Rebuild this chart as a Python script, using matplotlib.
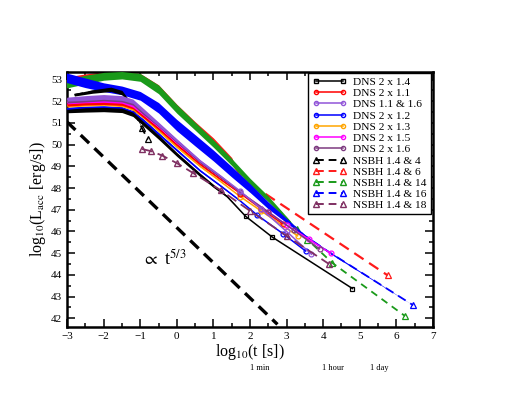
import matplotlib
matplotlib.use("Agg")
import matplotlib.pyplot as plt
from matplotlib.lines import Line2D
from matplotlib.ticker import MultipleLocator
import numpy as np

plt.rcParams['font.family'] = ['Liberation Serif', 'DejaVu Serif']
plt.rcParams['mathtext.fontset'] = 'stix'

# ---- data (log10 t [s], log10 L [erg/s]) ----
# DNS runs: x, y and half-width of the noisy early band
dns14_x = [-3.0, -2.5, -2.0, -1.5, -1.2, -0.9, -0.5, 0.0, 0.64, 1.0, 1.37, 1.88, 2.61, 4.8]
dns14_y = [51.55, 51.6, 51.62, 51.58, 51.4, 50.95, 50.35, 49.55, 48.6, 48.1, 47.62, 46.7, 45.74, 43.37]
dns14_w = [0.08, 0.1, 0.1, 0.1, 0.1, 0.1, 0.1, 0.09, 0.08, 0.07, 0.04, 0, 0, 0]

dns11_x = [-3.0, -2.5, -2.0, -1.5, -1.2, -0.9, -0.5, 0.0, 0.64, 1.2, 1.74, 2.3, 2.9]
dns11_y = [51.85, 51.9, 51.92, 51.88, 51.72, 51.3, 50.75, 50.0, 49.1, 48.4, 47.75, 47.05, 46.35]
dns11_w = [0.07, 0.07, 0.07, 0.07, 0.07, 0.07, 0.06, 0.05, 0.04, 0.03, 0, 0, 0]

dns1116_x = [-3.0, -2.5, -2.0, -1.5, -1.2, -0.9, -0.5, 0.0, 0.64, 1.2, 1.74, 2.3, 3.0, 3.68]
dns1116_y = [52.1, 52.15, 52.2, 52.15, 52.0, 51.55, 50.95, 50.2, 49.25, 48.55, 47.85, 47.05, 46.0, 44.95]
dns1116_w = [0.09, 0.11, 0.11, 0.11, 0.1, 0.1, 0.09, 0.07, 0.05, 0.04, 0, 0, 0, 0]

dns12_x = [-3.0, -2.5, -2.0, -1.5, -1.2, -0.9, -0.5, 0.0, 0.64, 1.2, 1.74, 2.2, 2.9, 3.52]
dns12_y = [51.65, 51.7, 51.72, 51.68, 51.5, 51.1, 50.5, 49.75, 48.8, 48.1, 47.4, 46.75, 45.9, 45.1]
dns12_w = [0.07, 0.07, 0.07, 0.07, 0.07, 0.07, 0.06, 0.05, 0.04, 0.03, 0.02, 0, 0, 0]

dns13_x = [-3.0, -2.5, -2.0, -1.5, -1.2, -0.9, -0.5, 0.0, 0.64, 1.2, 1.74, 2.3, 3.3]
dns13_y = [51.8, 51.85, 51.88, 51.82, 51.65, 51.25, 50.65, 49.9, 49.0, 48.3, 47.6, 46.95, 45.8]
dns13_w = [0.07, 0.07, 0.07, 0.07, 0.07, 0.06, 0.05, 0.04, 0.03, 0.02, 0, 0, 0]

dns15_x = [-3.0, -2.5, -2.0, -1.5, -1.2, -0.9, -0.5, 0.0, 0.64, 1.2, 1.74, 2.5, 3.0, 3.6, 4.2]
dns15_y = [51.95, 52.0, 52.02, 51.98, 51.8, 51.4, 50.85, 50.1, 49.2, 48.5, 47.8, 46.9, 46.3, 45.65, 45.0]
dns15_w = [0.07, 0.07, 0.07, 0.07, 0.07, 0.07, 0.06, 0.05, 0.04, 0.03, 0.02, 0, 0, 0, 0]

dns16_x = [-3.0, -2.5, -2.0, -1.5, -1.2, -0.9, -0.5, 0.0, 0.64, 1.2, 1.74, 2.5, 3.2, 3.9]
dns16_y = [52.0, 52.05, 52.1, 52.05, 51.9, 51.45, 50.9, 50.15, 49.2, 48.5, 47.8, 46.9, 46.05, 45.2]
dns16_w = [0.08, 0.08, 0.08, 0.08, 0.08, 0.08, 0.07, 0.06, 0.05, 0.03, 0, 0, 0, 0]

# NSBH runs
ns4_x = [-2.8, -2.3, -1.8, -1.5, -1.3, -1.1, -0.95, -0.79]
ns4_y = [52.3, 52.45, 52.55, 52.4, 51.95, 51.3, 50.75, 50.24]
ns4_w = [0.06, 0.08, 0.1, 0.1, 0.1, 0.07, 0, 0]

ns6_x = [-3.05, -2.5, -2.0, -1.5, -1.0, -0.5, 0.0, 0.5, 1.0, 1.5, 1.74, 5.76]
ns6_y = [52.95, 53.1, 53.2, 53.22, 53.12, 52.6, 51.7, 50.9, 50.15, 49.25, 48.5, 43.98]
ns6_w = [0.16, 0.16, 0.16, 0.16, 0.16, 0.16, 0.16, 0.16, 0.16, 0.16, 0, 0]

ns14_x = [-3.05, -2.5, -2.0, -1.5, -1.0, -0.5, 0.0, 0.5, 1.0, 1.5, 2.0, 2.5, 3.0, 3.29, 3.57, 4.25, 6.24]
ns14_y = [52.8, 53.0, 53.15, 53.2, 53.1, 52.55, 51.65, 50.85, 50.05, 49.2, 48.3, 47.5, 46.6, 46.1, 45.63, 44.55, 42.1]
ns14_w = [0.2, 0.2, 0.18, 0.17, 0.18, 0.2, 0.2, 0.18, 0.17, 0.16, 0.15, 0.13, 0.08, 0, 0, 0, 0]

ns16_x = [-3.05, -2.5, -2.0, -1.5, -1.0, -0.5, 0.0, 0.5, 1.0, 1.5, 2.0, 2.5, 3.0, 3.5, 4.16, 6.46]
ns16_y = [53.1, 52.85, 52.65, 52.5, 52.25, 51.7, 50.9, 50.2, 49.5, 48.75, 48.0, 47.2, 46.5, 45.8, 45.05, 42.6]
ns16_w = [0.22, 0.22, 0.2, 0.2, 0.2, 0.24, 0.26, 0.26, 0.25, 0.24, 0.2, 0.16, 0.1, 0.05, 0.04, 0]

ns18_x = [-0.95, -0.7, -0.4, 0.0, 0.44, 1.2, 2.0, 3.0, 4.16]
ns18_y = [49.8, 49.7, 49.5, 49.15, 48.7, 47.9, 46.95, 45.8, 44.5]

# reference slope line and its label
slope_x = [-3.0, 2.75]
slope_y = [51.05, 41.72]

time_marks = ['1 min', '1 hour', '1 day']

fig = plt.figure(figsize=(5.10, 3.95), dpi=100)
ax = fig.add_axes([0.1314, 0.1722, 0.7176, 0.6456])


def draw(x, y, w, color, ls, marker, z, ms=3.5, lw=1.1, dashes=None):
    x = np.array(x)
    y = np.array(y)
    w = np.array(w)
    noisy = w > 0
    if noisy.any():
        last = np.where(noisy)[0].max() + 1
        ax.fill_between(x[:last + 1], (y - w)[:last + 1], (y + w)[:last + 1],
                        color=color, lw=0, zorder=z)
    sparse = [i for i in range(len(x)) if w[i] == 0]
    line, = ax.plot(x, y, color=color, ls=ls, lw=lw, marker=marker, ms=ms,
                    mfc='none', mec=color, mew=0.9, markevery=sparse, zorder=z)
    if dashes is not None:
        line.set_dashes(dashes)


# upper NSBH bands
draw(ns6_x, ns6_y, ns6_w, '#ff1a1a', '--', '^', 2, ms=5, lw=1.6, dashes=(5, 3))
draw(ns14_x, ns14_y, ns14_w, '#1a9a1a', '--', '^', 3, ms=5, lw=1.3, dashes=(4, 3))
draw(ns16_x, ns16_y, ns16_w, '#0000ff', '--', '^', 4, ms=5, lw=1.3, dashes=(5, 3))
draw(ns4_x, ns4_y, ns4_w, 'black', '--', '^', 5, ms=5, lw=1.3, dashes=(5, 3))

# DNS bundle
draw(dns12_x, dns12_y, dns12_w, '#0000ff', '-', 'o', 6)
draw(dns13_x, dns13_y, dns13_w, '#ffa500', '-', 'o', 7)
draw(dns11_x, dns11_y, dns11_w, '#ff0000', '-', 'o', 8)
draw(dns15_x, dns15_y, dns15_w, '#ff00ff', '-', 'o', 9)
draw(dns16_x, dns16_y, dns16_w, '#7d3a80', '-', 'o', 10)
draw(dns1116_x, dns1116_y, dns1116_w, '#9155d8', '-', 'o', 11)
draw(dns14_x, dns14_y, dns14_w, 'black', '-', 's', 12, ms=3)
line18, = ax.plot(ns18_x, ns18_y, color='#7f2f62', lw=1.3, marker='^', ms=5,
                  mfc='none', mec='#7f2f62', zorder=13)
line18.set_dashes((6, 3))

slope, = ax.plot(slope_x, slope_y, color='black', lw=2.4, zorder=14)
slope.set_dashes((3.5, 2.2))
ax.text(-0.95, 44.45, r'$\propto$ t$^{5/3}$', fontsize=13, zorder=15)

ax.set_xlim(-3, 7)
ax.set_ylim(41.6, 53.35)
ax.xaxis.set_major_locator(MultipleLocator(1))
ax.xaxis.set_minor_locator(MultipleLocator(0.5))
ax.yaxis.set_major_locator(MultipleLocator(1))
ax.yaxis.set_minor_locator(MultipleLocator(0.5))
ax.tick_params(which='both', direction='in', top=True, right=True, labelsize=8, width=1.1)
ax.tick_params(which='major', length=6)
ax.tick_params(which='minor', length=3)
for s in ax.spines.values():
    s.set_linewidth(1.8)

ax.set_xlabel(r'log$_{10}$(t [s])', fontsize=11.5, labelpad=1)
ax.set_ylabel(r'log$_{10}$(L$_{\rm acc}$ [erg/s])', fontsize=11.5, labelpad=2)

# legend
labels = ['DNS 2 x 1.4', 'DNS 2 x 1.1', 'DNS 1.1 & 1.6', 'DNS 2 x 1.2', 'DNS 2 x 1.3',
          'DNS 2 x 1.5', 'DNS 2 x 1.6', 'NSBH 1.4 & 4', 'NSBH 1.4 & 6',
          'NSBH 1.4 & 14', 'NSBH 1.4 & 16', 'NSBH 1.4 & 18']
colors = ['black', '#ff0000', '#9155d8', '#0000ff', '#ffa500', '#ff00ff', '#7d3a80',
          'black', '#ff1a1a', '#1a9a1a', '#0000ff', '#7f2f62']
handles = []
for i, (lab, c) in enumerate(zip(labels, colors)):
    if i < 7:
        h = Line2D([], [], color=c, lw=1.1, marker='s' if i == 0 else 'o', ms=3,
                   mfc='none', mec=c)
    else:
        h = Line2D([], [], color=c, lw=1.4, marker='^', ms=4, mfc='none', mec=c,
                   dashes=(4, 2.5))
    handles.append(h)
leg = ax.legend(handles, labels, loc='upper right', bbox_to_anchor=(0.994, 0.996),
                fontsize=8.2, frameon=True, fancybox=False, framealpha=1,
                edgecolor='black', handlelength=3.0, labelspacing=0.11,
                borderpad=0.35, handletextpad=0.6, numpoints=2, borderaxespad=0)
leg.get_frame().set_linewidth(1.0)
leg.set_zorder(20)

for lab, fx in zip(time_marks, [0.51, 0.653, 0.743]):
    fig.text(fx, 0.068, lab, fontsize=6, ha='center', va='center')

fig.savefig('out.png', dpi=100)
